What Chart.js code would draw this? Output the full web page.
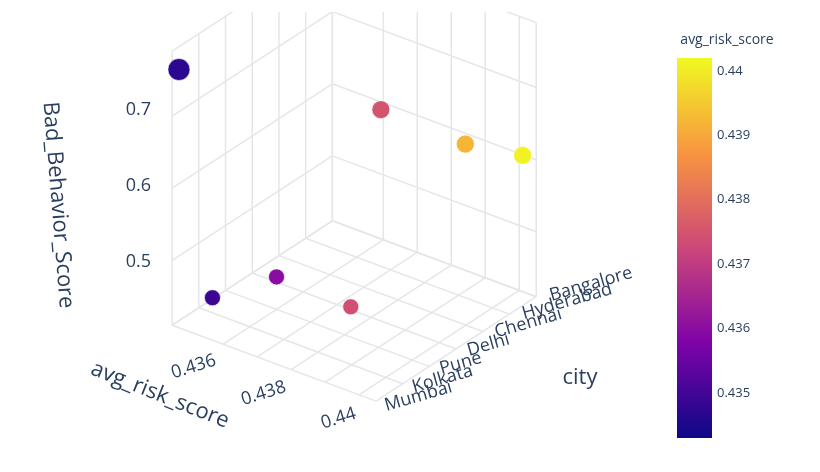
<!DOCTYPE html>
<html><head><meta charset="utf-8">
<script src="https://cdn.jsdelivr.net/npm/chart.js@4"></script>
<style>html,body{margin:0;padding:0;background:#fff}#wrap{width:820px;height:472px}</style>
</head><body><div id="wrap"><canvas id="c"></canvas></div>
<script>
const cities = ["Mumbai","Kolkata","Pune","Delhi","Chennai","Hyderabad","Bangalore"];
const pointCity = ["Mumbai","Chennai","Hyderabad","Bangalore","Pune","Kolkata","Delhi"];
const pointRisk = [0.4347,0.4375,0.4392,0.4401,0.4360,0.4349,0.4374];
const pointScore = [0.768,0.665,0.623,0.599,0.455,0.431,0.414];
const riskTicks = [0.436,0.438,0.44];
const scoreTicks = [0.5,0.6,0.7];
const colorTicks = [0.435,0.436,0.437,0.438,0.439,0.44];

const R0=0.4345,R1=0.4405,Z0=0.41,Z1=0.79;
function proj(r,ci,z){
  const u=(r-R0)/(R1-R0), v=ci/(cities.length-1);
  return {x:165+210*u+165*v, y:330+80*u-110*v-(z-Z0)*760};
}
const plasma=[[13,8,135],[126,3,168],[204,71,120],[248,149,64],[240,249,33]];
const CMIN=0.4343,CMAX=0.4402;
function col(val){
  let t=Math.max(0,Math.min(1,(val-CMIN)/(CMAX-CMIN)))*(plasma.length-1);
  const i=Math.min(plasma.length-2,Math.floor(t)),f=t-i;
  const c=plasma[i].map((a,k)=>Math.round(a+(plasma[i+1][k]-a)*f));
  return `rgb(${c[0]},${c[1]},${c[2]})`;
}
const datasets=[];
function line(a,b){datasets.push({type:'line',data:[a,b],borderColor:'#e4e6ea',borderWidth:1.5,pointRadius:0,showLine:true,order:2});}
const cmax=cities.length-1;
const rGrid=[R0,0.436,0.437,0.438,0.439,0.44,R1];
const zGrid=[Z0,0.5,0.6,0.7,Z1];
rGrid.forEach(r=>line(proj(r,0,Z0),proj(r,cmax,Z0)));
cities.forEach((c,i)=>line(proj(R0,i,Z0),proj(R1,i,Z0)));
cities.forEach((c,i)=>line(proj(R0,i,Z0),proj(R0,i,Z1)));
zGrid.forEach(z=>line(proj(R0,0,z),proj(R0,cmax,z)));
rGrid.forEach(r=>line(proj(r,cmax,Z0),proj(r,cmax,Z1)));
zGrid.forEach(z=>line(proj(R0,cmax,z),proj(R1,cmax,z)));
datasets.push({type:'scatter',order:1,
  data:pointRisk.map((r,i)=>proj(r,cities.indexOf(pointCity[i]),pointScore[i])),
  backgroundColor:pointRisk.map(col),borderColor:'rgba(255,255,255,0.6)',borderWidth:1,
  pointRadius:[11,9,9,9,8,8,8]});

const textPlugin={id:'txt',afterDraw(ch){
  const g=ch.ctx;g.save();g.fillStyle='#2a3f5f';
  const F='"Open Sans", sans-serif';
  g.font='18px '+F;g.textAlign='right';g.textBaseline='middle';
  scoreTicks.forEach(z=>{const p=proj(R0,0,z);g.fillText(String(z),p.x-14,p.y);});
  riskTicks.forEach(r=>{const p=proj(r,0,Z0);g.save();g.translate(p.x-2,p.y+10);g.rotate(-0.3);g.fillText(String(r),0,0);g.restore();});
  g.textAlign='left';
  cities.forEach((c,i)=>{const p=proj(R1,i,Z0);g.save();g.translate(p.x+10,p.y-4);g.rotate(-0.28);g.fillText(c,0,0);g.restore();});
  g.font='22px '+F;g.textAlign='center';
  g.save();g.translate(58,205);g.rotate(Math.PI/2-0.08);g.fillText('Bad_Behavior_Score',0,0);g.restore();
  g.save();g.translate(160,395);g.rotate(0.38);g.fillText('avg_risk_score',0,0);g.restore();
  g.fillText('city',580,378);
  const x0=677,w=35,yT=58,yB=438;
  const gr=g.createLinearGradient(0,yB,0,yT);
  plasma.forEach((c,i)=>gr.addColorStop(i/(plasma.length-1),`rgb(${c})`));
  g.fillStyle=gr;g.fillRect(x0,yT,w,yB-yT);
  g.fillStyle='#2a3f5f';g.font='13px '+F;g.textAlign='left';
  colorTicks.forEach(t=>{const y=yB-(t-CMIN)/(CMAX-CMIN)*(yB-yT);g.fillText(String(t),x0+w+5,y);});
  g.textAlign='center';g.font='14px '+F;g.fillText('avg_risk_score',727,40);
  g.restore();
}};
new Chart(document.getElementById('c'),{
  data:{datasets},
  options:{responsive:true,maintainAspectRatio:false,animation:false,
    layout:{padding:0},
    plugins:{legend:{display:false},tooltip:{enabled:false}},
    scales:{x:{type:'linear',min:0,max:820,display:false},y:{type:'linear',min:0,max:472,reverse:true,display:false}}},
  plugins:[textPlugin]
});
</script></body></html>
